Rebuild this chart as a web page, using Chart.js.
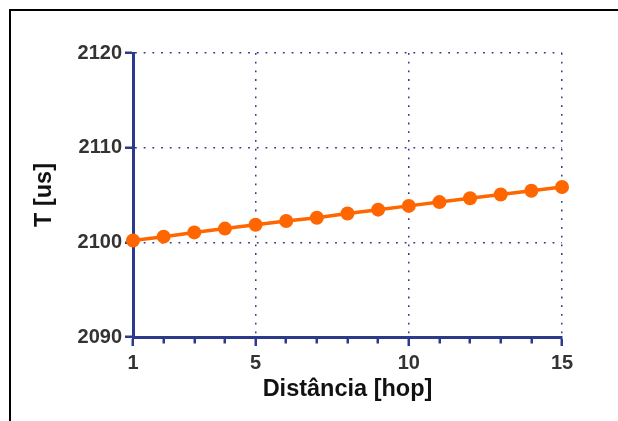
<!DOCTYPE html>
<html>
<head>
<meta charset="utf-8">
<script src="https://cdn.jsdelivr.net/npm/chart.js@4/dist/chart.umd.min.js"></script>
<style>
  html, body { margin: 0; padding: 0; background: #fff; overflow: hidden; }
  #frame {
    position: absolute; left: 9px; top: 9px;
    width: 800px; height: 600px;
    border: 2px solid #000;
  }
  #chart { position: absolute; left: 0; top: 0; }
</style>
</head>
<body>
<div id="frame"></div>
<canvas id="chart" width="618" height="421"></canvas>
<script>
const hops = [1, 2, 3, 4, 5, 6, 7, 8, 9, 10, 11, 12, 13, 14, 15]
const delays = [2100.2, 2100.6, 2101.05, 2101.45, 2101.85, 2102.25, 2102.6, 2103.05,
                2103.45, 2103.85, 2104.25, 2104.65, 2105.05, 2105.45, 2105.85]
const xLabelTicks = [1, 5, 10, 15]
const yTicks = [2090, 2100, 2110, 2120]

const navy = '#2d3a8c'
const dots = '#34348a'
const orange = '#ff6600'

const isLabelTick = v => xLabelTicks.includes(v)

const ctx = document.getElementById('chart').getContext('2d')
const chart = new Chart(ctx, {
    type: 'line',
    data: {
        datasets: [{
            data: hops.map((h, i) => ({ x: h, y: delays[i] })),
            borderColor: orange,
            backgroundColor: orange,
            borderWidth: 3.5,
            pointRadius: 7,
            pointBorderWidth: 0,
            pointBackgroundColor: orange,
            tension: 0,
            clip: false,
        }]
    },
    options: {
        responsive: false,
        animation: false,
        devicePixelRatio: 1,
        layout: { padding: { left: 0, top: 53, right: 56, bottom: 0 } },
        plugins: { legend: { display: false }, tooltip: { enabled: false } },
        scales: {
            x: {
                type: 'linear',
                min: hops[0],
                max: hops[hops.length - 1],
                afterFit: scale => { scale.height = 84 },
                afterBuildTicks: scale => { scale.ticks = hops.map(v => ({ value: v })) },
                ticks: {
                    autoSkip: false,
                    maxRotation: 0,
                    padding: 5,
                    color: '#333',
                    font: { family: 'Liberation Sans', size: 20, weight: 'bold' },
                    callback: v => isLabelTick(v) ? String(v) : '',
                },
                grid: {
                    color: c => (c.tick && isLabelTick(c.tick.value)) ? dots : 'rgba(0,0,0,0)',
                    lineWidth: 1.5,
                    tickLength: 9,
                    tickWidth: 2.5,
                    tickColor: navy,
                    // minor ticks are cut short by the dash pattern
                    tickBorderDash: c => (c.tick && isLabelTick(c.tick.value)) ? [] : [4.5, 100],
                },
                border: { color: navy, width: 3, dash: [1.8, 6.9] },
                title: {
                    display: true,
                    text: 'Distância [hop]',
                    color: '#111',
                    font: { family: 'Liberation Sans', size: 23.5, weight: 'bold' },
                    padding: { top: 0, bottom: 17 },
                },
            },
            y: {
                min: yTicks[0],
                max: yTicks[yTicks.length - 1],
                afterFit: scale => { scale.width = 133 },
                afterBuildTicks: scale => { scale.ticks = yTicks.map(v => ({ value: v })) },
                ticks: {
                    padding: 3,
                    color: '#333',
                    font: { family: 'Liberation Sans', size: 20, weight: 'bold' },
                    callback: v => String(v),
                },
                grid: {
                    color: dots,
                    lineWidth: 1.5,
                    tickLength: 8,
                    tickWidth: 2.5,
                    tickColor: navy,
                },
                border: { color: navy, width: 3, dash: [1.8, 6.9] },
                title: {
                    display: true,
                    text: 'T [us]',
                    color: '#111',
                    font: { family: 'Liberation Sans', size: 23.5, weight: 'bold' },
                    padding: { top: 30, bottom: 0 },
                },
            }
        }
    }
})
</script>
</body>
</html>
